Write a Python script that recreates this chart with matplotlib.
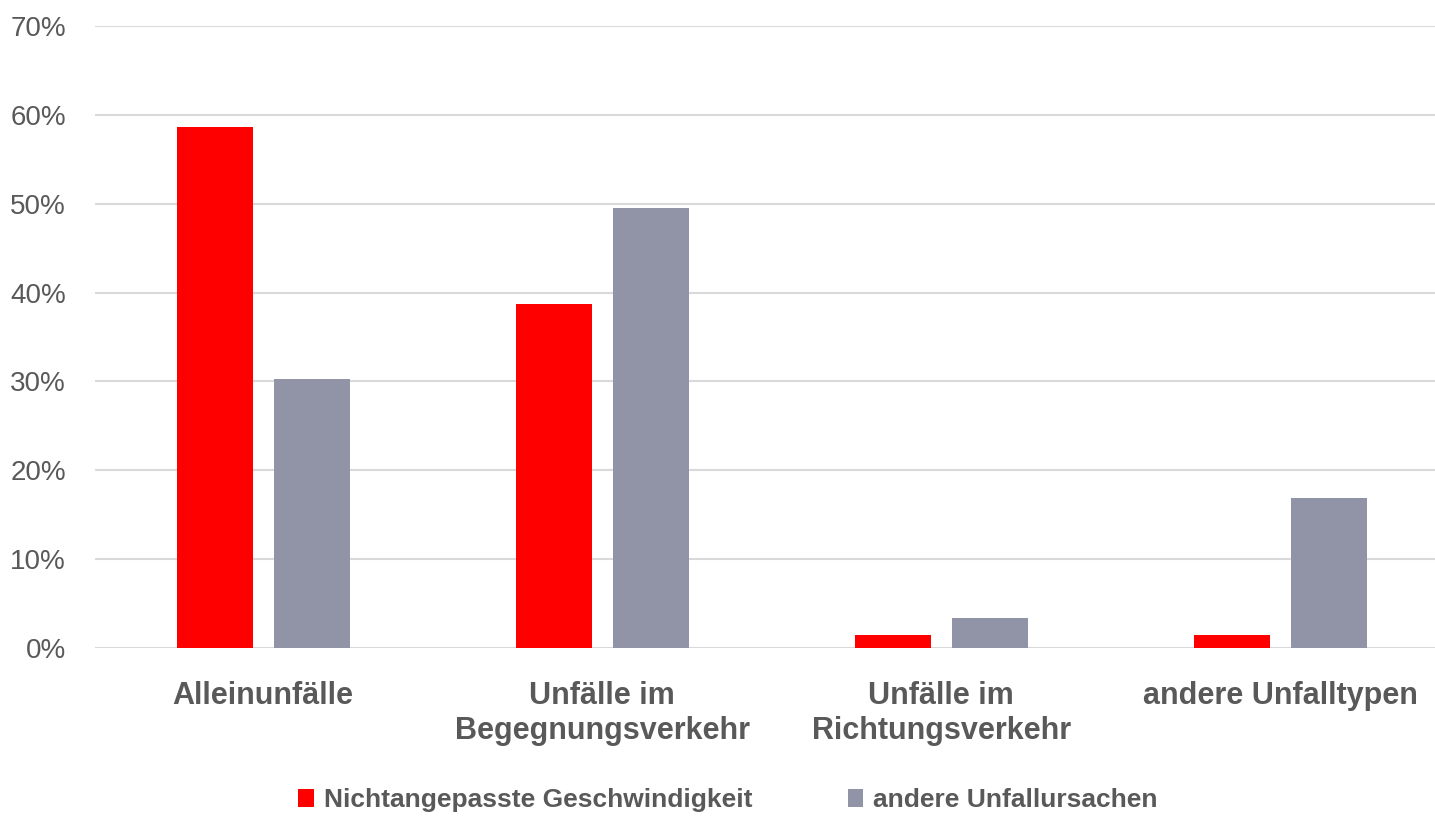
import matplotlib
matplotlib.use("Agg")
import matplotlib.pyplot as plt
from matplotlib.ticker import PercentFormatter
import numpy as np

categories = ["Alleinunfälle", "Unfälle im\nBegegnungsverkehr", "Unfälle im\nRichtungsverkehr", "andere Unfalltypen"]
speed = [58.6, 38.7, 1.5, 1.5]
other = [30.3, 49.5, 3.4, 16.9]
series_names = ["Nichtangepasste Geschwindigkeit", "andere Unfallursachen"]
yticks = [0, 10, 20, 30, 40, 50, 60, 70]

plt.rcParams['font.family'] = ['Liberation Sans', 'DejaVu Sans']
TXT = "#595959"

fig = plt.figure(figsize=(14.35, 8.17), dpi=100)
ax = fig.add_axes([95/1435, 1 - 648/817, 1 - 95/1435, (648 - 26)/817])

x = np.arange(len(categories))
w = 0.224
off = 0.143
ax.bar(x - off, speed, w, color="#FF0000", label=series_names[0], zorder=3)
ax.bar(x + off, other, w, color="#9194A6", label=series_names[1], zorder=3)

ax.set_ylim(0, 70)
ax.set_xlim(-0.496, 3.457)
ax.set_yticks(yticks)
ax.yaxis.set_major_formatter(PercentFormatter(decimals=0))
ax.grid(axis="y", color="#D9D9D9", linewidth=1.5, zorder=0)
ax.set_axisbelow(True)
for s in ax.spines.values():
    s.set_visible(False)
ax.tick_params(axis="both", length=0)
ax.tick_params(axis="y", labelsize=20, labelcolor=TXT, pad=21)
ax.set_xticks(x)
ax.set_xticklabels(categories, fontsize=22, fontweight="bold", color=TXT, linespacing=1.2)
ax.tick_params(axis="x", pad=24)

leg = fig.legend(loc="center", bbox_to_anchor=(728/1435, 1 - 800/817), ncol=2, frameon=False,
                 fontsize=19, handlelength=0.6, handleheight=0.7, handletextpad=0.38,
                 columnspacing=3.6)
for t in leg.get_texts():
    t.set_color(TXT)
    t.set_fontweight("bold")

fig.savefig("out.png", dpi=100)
